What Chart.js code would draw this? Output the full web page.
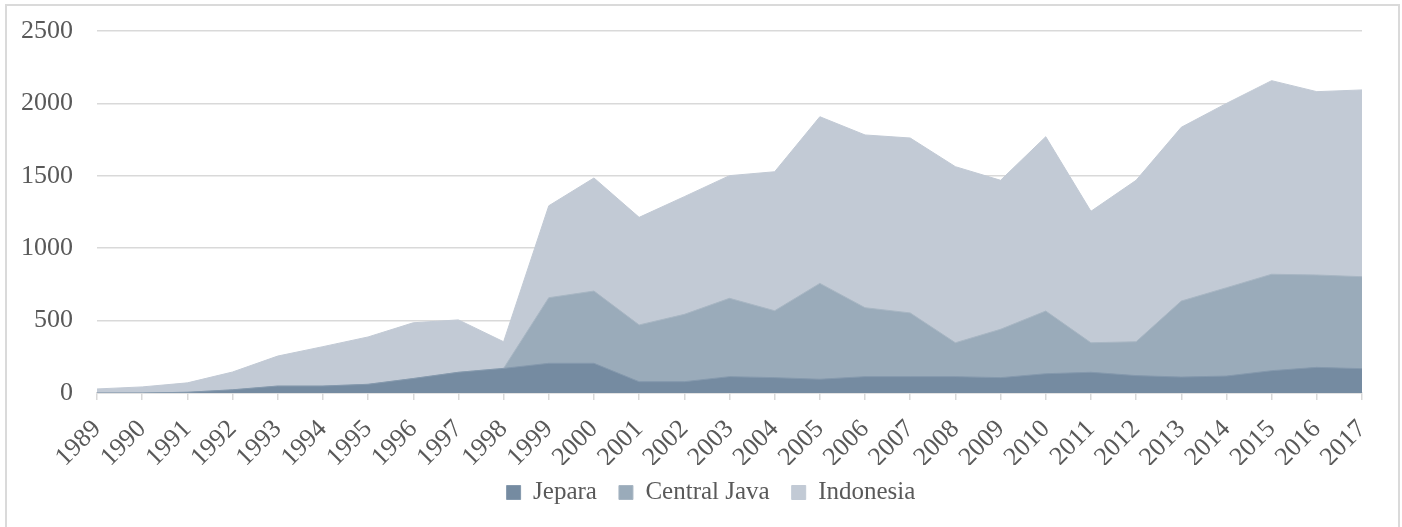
<!DOCTYPE html>
<html>
<head>
<meta charset="utf-8">
<script src="https://cdn.jsdelivr.net/npm/chart.js@4"></script>
<style>
  html, body { margin: 0; padding: 0; background: #fff; }
  #frame { position: absolute; left: 5px; top: 4px; width: 1391px; height: 600px; border: 2px solid #dadada; }
  #wrap { position: absolute; left: 0; top: 0; width: 1402px; height: 527px; }
</style>
</head>
<body>
<div id="frame"></div>
<div id="wrap"><canvas id="area-chart"></canvas></div>
<script>
const years = ['1989','1990','1991','1992','1993','1994','1995','1996','1997','1998',
    '1999','2000','2001','2002','2003','2004','2005','2006','2007','2008',
    '2009','2010','2011','2012','2013','2014','2015','2016','2017'];

const jepara = [0, 0, 5, 22, 48, 48, 60, 100, 143, 170,
    205, 205, 78, 78, 113, 106, 95, 113, 113, 113,
    106, 133, 143, 120, 110, 117, 154, 177, 168];

const centralJava = [0, 0, 5, 22, 48, 48, 60, 100, 143, 170,
    658, 704, 470, 543, 654, 568, 757, 589, 553, 347,
    440, 566, 347, 354, 635, 727, 820, 815, 803];

const indonesia = [28, 42, 70, 145, 255, 320, 387, 485, 505, 354,
    1293, 1485, 1213, 1356, 1501, 1528, 1908, 1782, 1761, 1563,
    1469, 1770, 1255, 1469, 1835, 2000, 2157, 2081, 2093];

const yTicks = [0, 500, 1000, 1500, 2000, 2500];

const textColor = '#595959';
const gridColor = '#d9d9d9';
const serif = "'Liberation Serif', 'DejaVu Serif', serif";

// legend box: fixed height, then nudged up and right to where the reference has it
const legendFix = {
    id: 'legendFix',
    beforeLayout(chart){
        const lg = chart.legend;
        if(lg && !lg._patched){
            const fit = lg.fit;
            lg.fit = function(){
                fit.call(this);
                this.height = 62;
            };
            lg._patched = true;
        }
    },
    afterLayout(chart){
        const lg = chart.legend;
        if(lg){
            lg.left += 30;
            lg.right += 30;
            lg.top -= 7;
            lg.bottom -= 7;
        }
    }
};

const areaData = {
    labels: years,
    datasets: [
        {
            label: 'Jepara',
            data: jepara,
            backgroundColor: '#758ba1',
            borderColor: '#8599ad',
            borderWidth: 1,
            fill: 'origin',
            pointRadius: 0,
            tension: 0
        },
        {
            label: 'Central Java',
            data: centralJava,
            backgroundColor: '#9aabba',
            borderColor: '#a8b6c3',
            borderWidth: 1,
            fill: 'origin',
            pointRadius: 0,
            tension: 0
        },
        {
            label: 'Indonesia',
            data: indonesia,
            backgroundColor: '#c2cad5',
            borderColor: '#c2cad5',
            borderWidth: 1,
            fill: 'origin',
            pointRadius: 0,
            tension: 0
        }
    ]
};

const areaConfig = {
    type: 'line',
    data: areaData,
    options: {
        responsive: false,
        animation: false,
        devicePixelRatio: 1,
        layout: {
            padding: { top: 31, right: 40, bottom: 0, left: 0 }
        },
        scales: {
            x: {
                offset: false,
                grid: {
                    drawOnChartArea: false,
                    drawTicks: true,
                    tickLength: 7,
                    color: gridColor,
                    lineWidth: 1.5
                },
                border: { color: gridColor, width: 1.5 },
                ticks: {
                    color: textColor,
                    font: { family: serif, size: 26 },
                    minRotation: 45,
                    maxRotation: 45,
                    autoSkip: false,
                    padding: 14
                },
                afterFit: function(scale){ scale.height = 72; }
            },
            y: {
                min: 0,
                max: 2500,
                afterBuildTicks: function(scale){
                    scale.ticks = yTicks.map(v => ({ value: v }));
                },
                grid: {
                    drawTicks: true,
                    tickLength: 24,
                    tickColor: 'rgba(0,0,0,0)',
                    color: gridColor,
                    lineWidth: 1.5
                },
                border: { display: false },
                ticks: {
                    color: textColor,
                    font: { family: serif, size: 26 },
                    padding: 0,
                    callback: function(value){ return String(value); }
                },
                afterFit: function(scale){ scale.width = 97; }
            }
        },
        plugins: {
            legend: {
                position: 'bottom',
                labels: {
                    color: textColor,
                    font: { family: serif, size: 25 },
                    boxWidth: 14,
                    boxHeight: 14,
                    padding: 22
                }
            },
            tooltip: { enabled: false }
        }
    },
    plugins: [legendFix]
};

const canvas = document.getElementById('area-chart');
canvas.width = 1402;
canvas.height = 527;
const areaChart = new Chart(canvas, areaConfig);
</script>
</body>
</html>
